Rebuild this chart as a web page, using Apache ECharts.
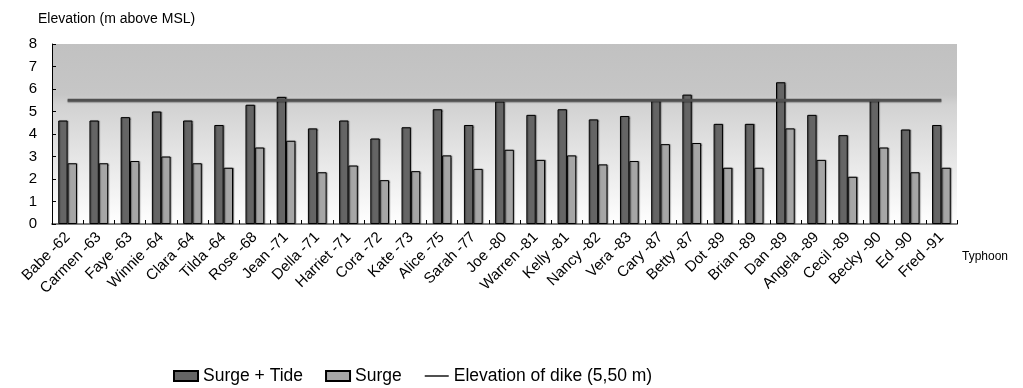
<!DOCTYPE html>
<html>
<head>
<meta charset="utf-8">
<script src="https://cdn.jsdelivr.net/npm/echarts@6/dist/echarts.min.js"></script>
<style>
  html, body { margin: 0; padding: 0; background: #ffffff; }
  #chart { width: 1023px; height: 388px; }
</style>
</head>
<body>
<div id="chart"></div>
<script>
// Typhoons (name - year)
const typhoons = [
  'Babe -62', 'Carmen -63', 'Faye -63', 'Winnie -64', 'Clara -64', 'Tilda -64',
  'Rose -68', 'Jean -71', 'Della -71', 'Harriet -71', 'Cora -72', 'Kate -73',
  'Alice -75', 'Sarah -77', 'Joe -80', 'Warren -81', 'Kelly -81', 'Nancy -82',
  'Vera -83', 'Cary -87', 'Betty -87', 'Dot -89', 'Brian -89', 'Dan -89',
  'Angela -89', 'Cecil -89', 'Becky -90', 'Ed -90', 'Fred -91'
];

// Peak water level, surge plus tide (m above MSL)
const surgeTide = [
  4.6, 4.6, 4.75, 5.0, 4.6, 4.4,
  5.3, 5.65, 4.25, 4.6, 3.8, 4.3,
  5.1, 4.4, 5.45, 4.85, 5.1, 4.65,
  4.8, 5.5, 5.75, 4.45, 4.45, 6.3,
  4.85, 3.95, 5.55, 4.2, 4.4
];

// Storm surge alone (m)
const surge = [
  2.7, 2.7, 2.8, 3.0, 2.7, 2.5,
  3.4, 3.7, 2.3, 2.6, 1.95, 2.35,
  3.05, 2.45, 3.3, 2.85, 3.05, 2.65,
  2.8, 3.55, 3.6, 2.5, 2.5, 4.25,
  2.85, 2.1, 3.4, 2.3, 2.5
];

// Crest elevation of the dike (m above MSL)
const dike = [
  5.5, 5.5, 5.5, 5.5, 5.5, 5.5,
  5.5, 5.5, 5.5, 5.5, 5.5, 5.5,
  5.5, 5.5, 5.5, 5.5, 5.5, 5.5,
  5.5, 5.5, 5.5, 5.5, 5.5, 5.5,
  5.5, 5.5, 5.5, 5.5, 5.5
];

const yTicks = [0, 1, 2, 3, 4, 5, 6, 7, 8];

const FONT = 'Liberation Sans, Arial, Helvetica, sans-serif';

const chart = echarts.init(document.getElementById('chart'), null, { renderer: 'canvas' });

chart.setOption({
  animation: false,
  backgroundColor: '#ffffff',
  textStyle: { fontFamily: FONT, color: '#000' },
  title: {
    text: 'Elevation (m above MSL)',
    left: 38,
    top: 12,
    padding: 0,
    textStyle: { fontFamily: FONT, fontSize: 14, fontWeight: 'normal', color: '#000' }
  },
  graphic: [{
    type: 'text',
    left: 962,
    top: 251,
    style: { text: 'Typhoon', font: '12px ' + FONT, fill: '#000' }
  }],
  legend: {
    left: 168,
    top: 362,
    itemWidth: 24,
    itemHeight: 10,
    itemGap: 22,
    itemTextGap: 6,
    textStyle: { fontFamily: FONT, fontSize: 17.5, color: '#000' },
    data: [
      { name: 'Surge + Tide', icon: 'rect' },
      { name: 'Surge', icon: 'rect' },
      { name: 'Elevation of dike (5,50 m)', itemStyle: { opacity: 0 } }
    ]
  },
  grid: {
    left: 52,
    right: 66,
    top: 44,
    bottom: 164,
    show: true,
    borderWidth: 0,
    backgroundColor: new echarts.graphic.LinearGradient(0, 0, 0, 1, [
      { offset: 0, color: '#c1c1c1' },
      { offset: 0.28, color: '#c6c6c6' },
      { offset: 0.34, color: '#d2d2d2' },
      { offset: 1, color: '#ffffff' }
    ])
  },
  xAxis: {
    type: 'category',
    data: typhoons,
    boundaryGap: true,
    axisLine: { show: true, lineStyle: { color: '#808080', width: 2 } },
    axisTick: { show: true, inside: true, length: 4, lineStyle: { color: '#000', width: 1 } },
    axisLabel: {
      interval: 0,
      rotate: 45,
      margin: 11,
      fontFamily: FONT,
      fontSize: 15,
      color: '#000'
    },
    splitLine: { show: false }
  },
  yAxis: {
    type: 'value',
    min: yTicks[0],
    max: yTicks[yTicks.length - 1],
    interval: 1,
    axisLine: { show: true, lineStyle: { color: '#000', width: 1 } },
    axisTick: { show: true, inside: true, length: 4, lineStyle: { color: '#000' } },
    axisLabel: { fontFamily: FONT, fontSize: 15, color: '#000', margin: 15 },
    splitLine: { show: false }
  },
  series: [
    {
      name: 'Surge + Tide',
      type: 'bar',
      data: surgeTide,
      barGap: '0%',
      barCategoryGap: '40%',
      itemStyle: {
        color: '#656565',
        borderColor: '#000',
        borderWidth: 1,
        shadowColor: 'rgba(0,0,0,0.35)',
        shadowOffsetX: 1,
        shadowOffsetY: 0,
        shadowBlur: 1
      },
      z: 2
    },
    {
      name: 'Surge',
      type: 'bar',
      data: surge,
      itemStyle: {
        color: '#a6a6a6',
        borderColor: '#000',
        borderWidth: 1,
        shadowColor: 'rgba(0,0,0,0.35)',
        shadowOffsetX: 1,
        shadowOffsetY: 0,
        shadowBlur: 1
      },
      z: 2
    },
    {
      name: 'Elevation of dike (5,50 m)',
      type: 'line',
      data: dike,
      symbol: 'none',
      lineStyle: {
        color: '#505050',
        width: 3,
        shadowColor: 'rgba(0,0,0,0.3)',
        shadowBlur: 1,
        shadowOffsetY: 1
      },
      itemStyle: { color: '#505050' },
      z: 3
    }
  ]
});
</script>
</body>
</html>
